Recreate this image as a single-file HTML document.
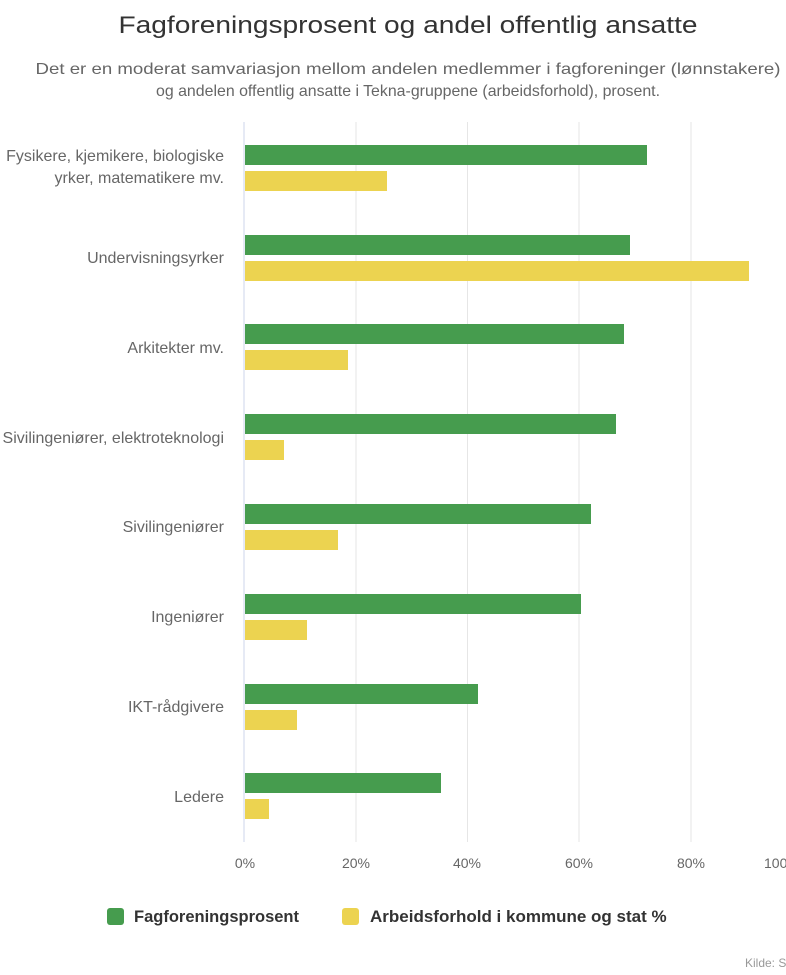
<!DOCTYPE html>
<html><head><meta charset="utf-8"><style>
html,body{margin:0;padding:0;background:#fff;}
svg{display:block;font-family:"Liberation Sans","DejaVu Sans",sans-serif;}
</style></head><body>
<svg width="786" height="975" viewBox="0 0 786 975" xmlns="http://www.w3.org/2000/svg">
<rect width="786" height="975" fill="#fff"/>
<text x="408" y="33" font-size="24" fill="#333" text-anchor="middle" textLength="579" lengthAdjust="spacingAndGlyphs">Fagforeningsprosent og andel offentlig ansatte</text>
<text x="408" y="74" font-size="16" fill="#666" text-anchor="middle" textLength="745" lengthAdjust="spacingAndGlyphs">Det er en moderat samvariasjon mellom andelen medlemmer i fagforeninger (lønnstakere)</text>
<text x="408" y="96" font-size="16" fill="#666" text-anchor="middle" textLength="504" lengthAdjust="spacingAndGlyphs">og andelen offentlig ansatte i Tekna-gruppene (arbeidsforhold), prosent.</text>
<g stroke="#e6e6e6" stroke-width="1">
<line x1="356" y1="122" x2="356" y2="842"/>
<line x1="467.5" y1="122" x2="467.5" y2="842"/>
<line x1="579" y1="122" x2="579" y2="842"/>
<line x1="691" y1="122" x2="691" y2="842"/>
</g>
<line x1="244" y1="122" x2="244" y2="842" stroke="#ccd6eb" stroke-width="1"/>
<g font-size="14" fill="#666" text-anchor="middle">
<text x="245" y="868">0%</text><text x="356" y="868">20%</text><text x="467" y="868">40%</text><text x="579" y="868">60%</text><text x="691" y="868">80%</text>
</g>
<text x="764" y="868" font-size="14" fill="#666">100%</text>
<g fill="#469c4e">
<rect x="245" y="145" width="402" height="20"/>
<rect x="245" y="235" width="385" height="20"/>
<rect x="245" y="324" width="379" height="20"/>
<rect x="245" y="414" width="371" height="20"/>
<rect x="245" y="504" width="346" height="20"/>
<rect x="245" y="594" width="336" height="20"/>
<rect x="245" y="684" width="233" height="20"/>
<rect x="245" y="773" width="196" height="20"/>
</g>
<g fill="#ecd350">
<rect x="245" y="171" width="142" height="20"/>
<rect x="245" y="261" width="504" height="20"/>
<rect x="245" y="350" width="103" height="20"/>
<rect x="245" y="440" width="39" height="20"/>
<rect x="245" y="530" width="93" height="20"/>
<rect x="245" y="620" width="62" height="20"/>
<rect x="245" y="710" width="52" height="20"/>
<rect x="245" y="799" width="24" height="20"/>
</g>
<g font-size="16" fill="#666" text-anchor="end">
<text x="224" y="161">Fysikere, kjemikere, biologiske</text>
<text x="224" y="183">yrker, matematikere mv.</text>
<text x="224" y="263">Undervisningsyrker</text>
<text x="224" y="353">Arkitekter mv.</text>
<text x="224" y="443">Sivilingeniører, elektroteknologi</text>
<text x="224" y="532">Sivilingeniører</text>
<text x="224" y="622">Ingeniører</text>
<text x="224" y="712">IKT-rådgivere</text>
<text x="224" y="802">Ledere</text>
</g>
<rect x="107" y="908" width="17" height="17" rx="3" fill="#469c4e"/>
<text x="134" y="922" font-size="16.5" font-weight="bold" fill="#333">Fagforeningsprosent</text>
<rect x="342" y="908" width="17" height="17" rx="3" fill="#ecd350"/>
<text x="370" y="922" font-size="17" font-weight="bold" fill="#333">Arbeidsforhold i kommune og stat %</text>
<text x="745" y="967" font-size="12" fill="#999">Kilde: SSB</text>
</svg>
</body></html>
